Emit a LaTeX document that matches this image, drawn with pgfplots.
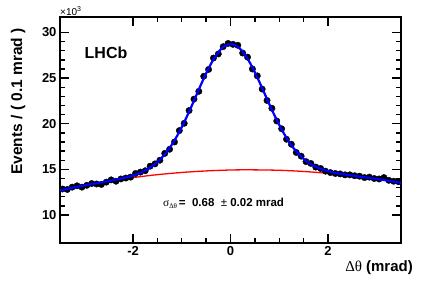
\documentclass[border=0pt]{standalone}
\usepackage{pgfplots}
\pgfplotsset{compat=1.18}
\usepackage{fontspec}
\setmainfont{Liberation Sans}
\newfontfamily\symfont{Liberation Serif}
\begin{document}
\begin{tikzpicture}
\begin{axis}[
  name=ax,
  set layers,
  scale only axis,
  width=341bp, height=226bp,
  xmin=-3.5, xmax=3.5,
  ymin=6.93, ymax=31.7,
  axis line style={line width=1.8bp},
  tick align=inside,
  xtick={-2,0,2}, xticklabels={{-2},{0},{2}},
  ytick={10,15,20,25,30}, yticklabels={{10},{15},{20},{25},{30}},
  minor x tick num=3,
  minor y tick num=4,
  major tick length=9bp,
  minor tick length=5bp,
  every tick/.style={black, line width=1.4bp},
  ticklabel style={font=\fontsize{13bp}{15bp}\selectfont\bfseries},
  clip=false,
]
\addplot[only marks, mark=*, mark size=3.2bp, black] coordinates {
(-3.45,12.85) (-3.35,12.80) (-3.25,13.05) (-3.15,13.20) (-3.05,13.05)
(-2.95,13.25) (-2.85,13.45) (-2.75,13.40) (-2.65,13.35) (-2.55,13.60)
(-2.45,13.85) (-2.35,13.70) (-2.25,13.95) (-2.15,14.05) (-2.05,14.15)
(-1.95,14.55) (-1.85,14.70) (-1.75,14.85) (-1.65,15.35) (-1.55,15.60)
(-1.45,16.00) (-1.35,16.75) (-1.25,17.20) (-1.15,18.00) (-1.05,19.25)
(-0.95,20.05) (-0.85,21.45) (-0.75,22.70) (-0.65,23.55) (-0.55,25.20)
(-0.45,25.95) (-0.35,27.20) (-0.25,27.65) (-0.15,28.45) (-0.05,28.80)
(0.05,28.70) (0.15,28.60) (0.25,27.75) (0.35,27.30) (0.45,26.00)
(0.55,25.25) (0.65,23.80) (0.75,22.55) (0.85,21.70) (0.95,20.30)
(1.05,19.45) (1.15,18.30) (1.25,17.75) (1.35,16.85) (1.45,16.45)
(1.55,15.85) (1.65,15.65) (1.75,15.25) (1.85,15.10) (1.95,14.80)
(2.05,14.65) (2.15,14.55) (2.25,14.50) (2.35,14.40) (2.45,14.40)
(2.55,14.30) (2.65,14.25) (2.75,14.10) (2.85,14.15) (2.95,14.00)
(3.05,13.95) (3.15,14.10) (3.25,13.80) (3.35,13.70) (3.45,13.65)
};
\addplot[red, line width=1.3bp, smooth] coordinates {
(-3.5,12.70) (-3,13.24) (-2.5,13.71) (-2,14.10) (-1.5,14.42) (-1,14.66)
(-0.5,14.83) (0,14.93) (0.4,14.95) (1,14.90) (1.5,14.77) (2,14.57)
(2.5,14.30) (3,13.95) (3.5,13.53)
};
\addplot[blue, line width=2.2bp, smooth, on layer=axis foreground] coordinates {
(-3.5,12.70) (-3.45,12.76) (-3.35,12.87) (-3.25,12.98) (-3.15,13.09) (-3.05,13.19)
(-2.95,13.29) (-2.85,13.39) (-2.75,13.48) (-2.65,13.57) (-2.55,13.68)
(-2.45,13.78) (-2.35,13.88) (-2.25,13.99) (-2.15,14.11) (-2.05,14.25)
(-1.95,14.41) (-1.85,14.62) (-1.75,14.88) (-1.65,15.19) (-1.55,15.58)
(-1.45,16.05) (-1.35,16.65) (-1.25,17.35) (-1.15,18.17) (-1.05,19.12)
(-0.95,20.18) (-0.85,21.32) (-0.75,22.52) (-0.65,23.76) (-0.55,24.95)
(-0.45,26.06) (-0.35,27.05) (-0.25,27.84) (-0.15,28.40) (-0.05,28.69)
(0.05,28.70) (0.15,28.43) (0.25,27.90) (0.35,27.13) (0.45,26.17)
(0.55,25.08) (0.65,23.91) (0.75,22.70) (0.85,21.52) (0.95,20.41)
(1.05,19.37) (1.15,18.45) (1.25,17.64) (1.35,16.97) (1.45,16.40)
(1.55,15.94) (1.65,15.58) (1.75,15.29) (1.85,15.06) (1.95,14.87)
(2.05,14.74) (2.15,14.62) (2.25,14.52) (2.35,14.44) (2.45,14.36)
(2.55,14.29) (2.65,14.20) (2.75,14.13) (2.85,14.06) (2.95,13.99)
(3.05,13.91) (3.15,13.83) (3.25,13.75) (3.35,13.66) (3.45,13.57) (3.5,13.53)
};
\end{axis}
\node[anchor=south west, inner sep=0pt, font=\fontsize{10bp}{12bp}\selectfont] at ([shift={(0bp,1.5bp)}]ax.north west) {×10\textsuperscript{3}};
\node[rotate=90, anchor=east, inner sep=0pt, font=\fontsize{15.5bp}{18bp}\selectfont\bfseries] at ([shift={(-42bp,-11bp)}]ax.north west) {Events / ( 0.1 mrad )};
\node[anchor=east, inner sep=0pt, font=\fontsize{15bp}{18bp}\selectfont] at ([shift={(12bp,-25bp)}]ax.south east) {{\symfont ∆θ} \textbf{(mrad)}};
\node[anchor=center, inner sep=0pt, font=\fontsize{16bp}{19bp}\selectfont\bfseries] at ([shift={(46bp,-35.5bp)}]ax.north west) {LHCb};
\node[anchor=west, inner sep=0pt, font=\fontsize{11.5bp}{13bp}\selectfont\bfseries] at ([shift={(103bp,40bp)}]ax.south west) {{\mdseries\symfont σ}\raisebox{-0.35ex}{\fontsize{7bp}{8bp}\selectfont\mdseries\symfont ∆θ}\,=\ \ 0.68\ \ {\mdseries ±}\ 0.02 mrad};
\pgfresetboundingbox
\path ([shift={(-60bp,-41bp)}]ax.south west) rectangle ([shift={(31bp,17bp)}]ax.north east);
\end{tikzpicture}
\end{document}
